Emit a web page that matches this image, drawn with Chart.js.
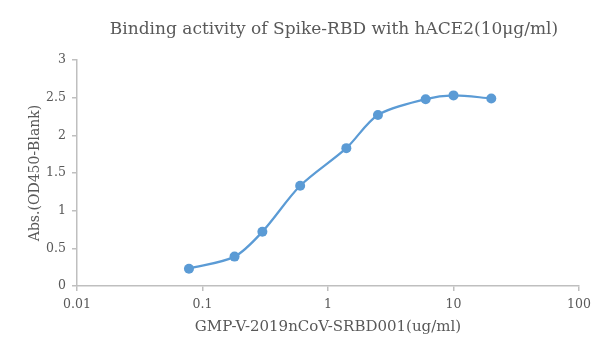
<!DOCTYPE html>
<html>
<head>
<meta charset="utf-8">
<script src="https://cdn.jsdelivr.net/npm/chart.js@4.4.0/dist/chart.umd.min.js"></script>
<style>
    html, body { margin: 0; padding: 0; background: #fff; }
    #wrap { width: 600px; height: 360px; }
</style>
</head>
<body>
<div id="wrap"><canvas id="chart" width="600" height="360"></canvas></div>
<script>
/* ================= DATA ================= */

const concentrations = [0.078, 0.18, 0.3, 0.6, 1.4, 2.5, 6, 10, 20];
const absorbance = [0.23, 0.39, 0.72, 1.33, 1.83, 2.27, 2.48, 2.53, 2.49];
const xTicks = [0.01, 0.1, 1, 10, 100];
const yTicks = [0, 0.5, 1, 1.5, 2, 2.5, 3];

const titleText = "Binding activity of Spike-RBD with hACE2(10μg/ml)";
const xTitle = "GMP-V-2019nCoV-SRBD001(ug/ml)";
const yTitle = "Abs.(OD450-Blank)";

/* ================= STYLE ================= */

const FONT = "'DejaVu Serif', serif";
const TEXT = "#595959";
const AXIS = "#bfbfbf";
const LINE = "#5b9bd5";

const points = concentrations.map((x, i) => ({ x, y: absorbance[i] }));

// title centred a little right of the canvas middle, like the original
const titlePlugin = {
    id: "offsetTitle",
    afterDraw(chart) {
        const ctx = chart.ctx;
        ctx.save();
        ctx.fillStyle = TEXT;
        ctx.font = "17px " + FONT;
        ctx.textAlign = "center";
        ctx.textBaseline = "middle";
        ctx.fillText(titleText, 334, 30);
        ctx.restore();
    }
};

new Chart(document.getElementById("chart"), {
    type: "line",
    data: {
        datasets: [{
            data: points,
            borderColor: LINE,
            backgroundColor: LINE,
            borderWidth: 2.25,
            pointRadius: 5,
            pointBorderWidth: 0,
            tension: 0.3,
            fill: false,
        }]
    },
    plugins: [titlePlugin],
    options: {
        responsive: false,
        animation: false,
        layout: { padding: { left: 0, right: 21, top: 60, bottom: 0 } },
        plugins: {
            legend: { display: false },
            tooltip: { enabled: false },
            title: { display: false },
        },
        scales: {
            x: {
                type: "logarithmic",
                min: 0.01,
                max: 100,
                afterBuildTicks: s => { s.ticks = xTicks.map(v => ({ value: v })); },
                afterFit: s => { s.height = 74; },
                border: { color: AXIS, width: 1.5 },
                grid: { drawOnChartArea: false, color: AXIS, tickLength: 5, lineWidth: 1.5 },
                ticks: {
                    color: TEXT,
                    font: { family: FONT, size: 12.5 },
                    padding: 6,
                    maxRotation: 0,
                    callback: v => String(v),
                },
                title: {
                    display: true,
                    text: xTitle,
                    color: TEXT,
                    font: { family: FONT, size: 15 },
                    padding: { top: 0, bottom: 24 },
                }
            },
            y: {
                min: 0,
                max: 3,
                afterBuildTicks: s => { s.ticks = yTicks.map(v => ({ value: v })); },
                afterFit: s => { s.width = 77; },
                border: { color: AXIS, width: 1.5 },
                grid: { drawOnChartArea: false, color: AXIS, tickLength: 5, lineWidth: 1.5 },
                ticks: {
                    color: TEXT,
                    font: { family: FONT, size: 12.5 },
                    padding: 6,
                    callback: v => String(v),
                },
                title: {
                    display: true,
                    text: yTitle,
                    color: TEXT,
                    font: { family: FONT, size: 14 },
                    padding: { top: 27, bottom: 0 },
                }
            }
        }
    }
});
</script>
</body>
</html>
